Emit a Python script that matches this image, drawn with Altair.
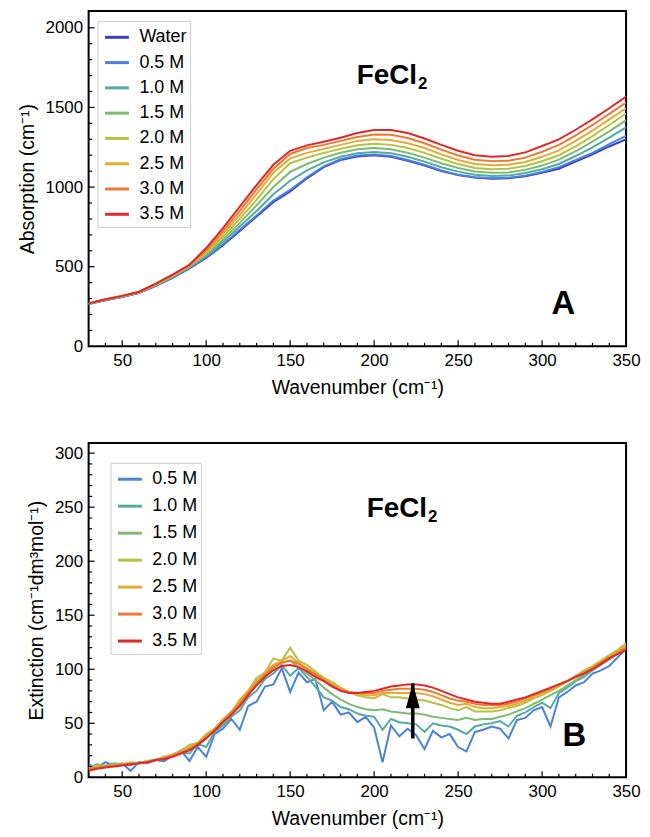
import altair as alt
import pandas as pd

FONT = "Liberation Sans"

# ---------------- Panel A : absorption ----------------
wn_a = list(range(30, 351, 10))
series_a = ["Water", "0.5 M", "1.0 M", "1.5 M", "2.0 M", "2.5 M", "3.0 M", "3.5 M"]
colors_a = ["#3d3dc6", "#4a82d9", "#52a9a6", "#7dbb6e", "#b5c243", "#e5ab34", "#ec7a33", "#e0282a"]

abs_water = [265, 290, 310, 335, 380, 430, 490, 555, 635, 725, 815, 905, 972, 1055, 1125, 1170, 1192,
             1200, 1190, 1165, 1135, 1100, 1075, 1060, 1052, 1055, 1068, 1090, 1115, 1160, 1205, 1255, 1300]
abs_05 = [266, 291, 311, 337, 382, 433, 493, 560, 640, 732, 822, 915, 982, 1062, 1130, 1175, 1198,
          1205, 1195, 1170, 1140, 1105, 1078, 1062, 1055, 1058, 1072, 1095, 1125, 1170, 1215, 1270, 1322]
abs_10 = [267, 292, 312, 338, 384, 436, 497, 567, 655, 752, 850, 955, 1040, 1105, 1155, 1190, 1212,
          1220, 1212, 1190, 1160, 1125, 1097, 1078, 1070, 1072, 1088, 1112, 1145, 1195, 1250, 1310, 1375]
abs_15 = [268, 293, 313, 339, 386, 439, 500, 575, 670, 775, 885, 1000, 1095, 1145, 1185, 1215, 1237,
          1245, 1237, 1215, 1185, 1150, 1120, 1098, 1090, 1092, 1108, 1135, 1172, 1225, 1285, 1350, 1420]
abs_20 = [268, 294, 314, 340, 388, 442, 503, 585, 688, 800, 920, 1050, 1150, 1185, 1215, 1240, 1262,
          1272, 1265, 1245, 1215, 1178, 1145, 1120, 1112, 1115, 1132, 1162, 1200, 1255, 1320, 1390, 1462]
abs_25 = [269, 295, 315, 341, 390, 445, 506, 595, 705, 825, 955, 1090, 1180, 1215, 1240, 1265, 1290,
          1300, 1295, 1275, 1245, 1205, 1170, 1145, 1137, 1140, 1158, 1190, 1230, 1290, 1355, 1425, 1495]
abs_30 = [269, 295, 316, 342, 392, 448, 508, 605, 722, 850, 985, 1115, 1208, 1245, 1265, 1290, 1315,
          1330, 1328, 1308, 1275, 1235, 1198, 1172, 1163, 1166, 1185, 1222, 1265, 1325, 1390, 1460, 1530]
abs_35 = [270, 296, 317, 343, 394, 450, 512, 617, 742, 877, 1012, 1140, 1228, 1262, 1285, 1310, 1340,
          1358, 1358, 1340, 1305, 1265, 1228, 1200, 1190, 1195, 1218, 1258, 1300, 1360, 1425, 1495, 1568]

# ---------------- Panel B : extinction ----------------
wn_b = list(range(30, 351, 5))
series_b = ["0.5 M", "1.0 M", "1.5 M", "2.0 M", "2.5 M", "3.0 M", "3.5 M"]
colors_b = colors_a[1:]

ext_05 = [12, 9, 14, 11, 13, 6, 14, 13, 16, 15,
          20, 25, 15, 28, 19, 40, 45, 54, 44, 66,
          70, 84, 86, 101, 79, 97, 88, 91, 62, 70,
          58, 60, 51, 56, 46, 14, 48, 38, 45, 39,
          26, 43, 37, 40, 28, 24, 42, 44, 47, 45,
          36, 53, 55, 62, 65, 47, 74, 79, 85, 88,
          96, 99, 103, 111, 119]
ext_10 = [9, 12, 10, 13, 12, 11, 14, 14, 16, 17,
          20, 23, 22, 31, 28, 42, 48, 56, 62, 74,
          80, 91, 96, 104, 94, 101, 93, 84, 74, 71,
          65, 63, 59, 57, 56, 44, 54, 51, 50, 49,
          42, 50, 48, 47, 44, 40, 47, 49, 50, 52,
          47, 57, 60, 65, 69, 64, 78, 83, 89, 93,
          99, 104, 109, 115, 120]
ext_15 = [9, 11, 11, 12, 12, 13, 13, 15, 16, 18,
          21, 24, 27, 32, 37, 44, 52, 59, 68, 78,
          87, 95, 101, 106, 108, 102, 96, 90, 83, 77,
          72, 68, 65, 63, 62, 63, 61, 60, 59, 59,
          58, 56, 55, 54, 53, 55, 53, 54, 54, 56,
          58, 61, 64, 68, 72, 76, 80, 85, 90, 95,
          100, 105, 110, 115, 120]
ext_20 = [9, 11, 10, 12, 12, 14, 13, 15, 16, 19,
          21, 25, 30, 32, 40, 45, 54, 60, 72, 80,
          92, 97, 110, 108, 120, 108, 104, 98, 92, 88,
          83, 79, 76, 74, 73, 77, 74, 74, 73, 72,
          71, 69, 67, 64, 62, 65, 61, 61, 61, 62,
          64, 66, 69, 73, 76, 80, 84, 89, 94, 99,
          103, 108, 113, 118, 124]
ext_25 = [8, 10, 10, 11, 12, 13, 13, 15, 16, 19,
          21, 24, 28, 32, 38, 45, 53, 61, 70, 80,
          89, 97, 104, 108, 112, 106, 101, 96, 91, 86,
          82, 79, 77, 76, 76, 78, 78, 78, 78, 78,
          77, 75, 72, 69, 67, 68, 65, 64, 64, 65,
          66, 68, 71, 75, 78, 81, 85, 89, 93, 98,
          102, 107, 112, 117, 122]
ext_30 = [7, 9, 10, 11, 12, 12, 13, 14, 16, 18,
          20, 23, 26, 31, 37, 44, 52, 60, 68, 78,
          87, 95, 102, 106, 108, 105, 100, 95, 90, 85,
          81, 79, 78, 78, 78, 80, 81, 82, 82, 82,
          81, 79, 76, 73, 71, 70, 68, 67, 67, 67,
          68, 70, 73, 76, 79, 82, 86, 89, 93, 97,
          101, 106, 111, 115, 120]
ext_35 = [6, 8, 9, 10, 11, 12, 13, 14, 16, 17,
          19, 22, 25, 30, 36, 43, 51, 58, 66, 76,
          85, 93, 99, 103, 104, 102, 98, 93, 89, 84,
          80, 78, 78, 79, 80, 82, 84, 85, 86, 86,
          85, 83, 80, 77, 74, 72, 70, 69, 68, 68,
          70, 72, 74, 77, 80, 83, 86, 89, 93, 96,
          100, 105, 110, 114, 118]

# arrow in panel B (wavenumber, from, to)
arrow_wn = [223]
arrow_from = [36]
arrow_to = [87]

# axis ticks / labels
x_labels = [50, 100, 150, 200, 250, 300, 350]
x_major = [50, 100, 150, 200, 250, 300]
x_minor = [v for v in range(40, 350, 10) if v % 50 != 0]
ya_labels = [0, 500, 1000, 1500, 2000]
ya_major = [500, 1000, 1500, 2000]
ya_minor = [v for v in range(100, 2100, 100) if v % 500 != 0]
yb_labels = [0, 50, 100, 150, 200, 250, 300]
yb_major = [50, 100, 150, 200, 250, 300]
yb_minor = [v for v in range(10, 310, 10) if v % 50 != 0]

X_TITLE = "Wavenumber (cm⁻¹)"


def long_df(xs, names, lists):
    rows = []
    for name, vals in zip(names, lists):
        for x, v in zip(xs, vals):
            rows.append({"wn": x, "val": v, "series": name})
    return pd.DataFrame(rows)


df_a = long_df(wn_a, series_a, [abs_water, abs_05, abs_10, abs_15, abs_20, abs_25, abs_30, abs_35])
df_b = long_df(wn_b, series_b, [ext_05, ext_10, ext_15, ext_20, ext_25, ext_30, ext_35])

W = 540


def text_layer(txt, x, y, size, weight="bold", align="center", baseline="alphabetic"):
    return alt.Chart(pd.DataFrame({"t": [txt]})).mark_text(
        font=FONT, fontSize=size, fontWeight=weight, align=align, baseline=baseline, color="black"
    ).encode(x=alt.value(x), y=alt.value(y), text="t:N")


def panel(df, names, colors, ydom, ylabels, ymaj, ymin, ytitle, legx, legy, rowpad, H,
          fecl_x, fecl_y, letter, letter_x, letter_y, extra=None):
    xs = alt.Scale(domain=[30, 350], nice=False, zero=False)
    ys = alt.Scale(domain=ydom, nice=False, zero=False)
    xax = alt.Axis(values=x_labels, title=X_TITLE, labelFlush=False, format="d")
    yax = alt.Axis(values=ylabels, title=ytitle, format="d")
    lines = alt.Chart(df).mark_line(strokeWidth=2, clip=True).encode(
        x=alt.X("wn:Q", scale=xs, axis=xax),
        y=alt.Y("val:Q", scale=ys, axis=yax),
        color=alt.Color("series:N", scale=alt.Scale(domain=names, range=colors),
                        legend=alt.Legend(orient="none", legendX=legx, legendY=legy, title=None,
                                          symbolType="stroke", symbolSize=576, symbolStrokeWidth=3,
                                          labelFont=FONT, labelFontSize=18, labelColor="black",
                                          labelOffset=9, padding=3, rowPadding=rowpad,
                                          symbolOffset=3, strokeColor="#cccccc", fillColor="white")),
    )
    ytm = alt.Chart(pd.DataFrame({"v": ymaj})).mark_rule(color="black", strokeWidth=1.2).encode(
        y=alt.Y("v:Q", scale=ys, axis=yax, title=ytitle), x=alt.value(0), x2=alt.value(6))
    ytn = alt.Chart(pd.DataFrame({"v": ymin})).mark_rule(color="black", strokeWidth=1.2).encode(
        y=alt.Y("v:Q", scale=ys, axis=yax, title=ytitle), x=alt.value(0), x2=alt.value(3.5))
    xtm = alt.Chart(pd.DataFrame({"v": x_major})).mark_rule(color="black", strokeWidth=1.2).encode(
        x=alt.X("v:Q", scale=xs, axis=xax, title=X_TITLE), y=alt.value(H), y2=alt.value(H - 6))
    xtn = alt.Chart(pd.DataFrame({"v": x_minor})).mark_rule(color="black", strokeWidth=1.2).encode(
        x=alt.X("v:Q", scale=xs, axis=xax, title=X_TITLE), y=alt.value(H), y2=alt.value(H - 3.5))
    layers = [lines, ytm, ytn, xtm, xtn,
              text_layer("FeCl", fecl_x, fecl_y, 28, align="right"),
              text_layer("2", fecl_x + 1, fecl_y + 5, 17, align="left"),
              text_layer(letter, letter_x, letter_y, 33, baseline="middle")]
    if extra:
        layers += extra(xs, ys, xax, yax, ytitle)
    return alt.layer(*layers).properties(width=W, height=H)


def arrow_layers(xs, ys, xax, yax, ytitle):
    adf = pd.DataFrame({"wn": arrow_wn, "y0": arrow_from, "y1": arrow_to})
    shaft = alt.Chart(adf).mark_rule(color="black", strokeWidth=3.5).encode(
        x=alt.X("wn:Q", scale=xs, axis=xax, title=X_TITLE),
        y=alt.Y("y0:Q", scale=ys, axis=yax, title=ytitle),
        y2=alt.Y2("y1:Q"),
    )
    head = alt.Chart(adf).mark_point(
        shape="M0,0L0.56,2L-0.56,2Z", size=625, filled=True, color="black", opacity=1, strokeWidth=0
    ).encode(x=alt.X("wn:Q", scale=xs, axis=xax, title=X_TITLE),
             y=alt.Y("y1:Q", scale=ys, axis=yax, title=ytitle))
    return [shaft, head]


chart_a = panel(df_a, series_a, colors_a, [0, 2106], ya_labels, ya_major, ya_minor,
                "Absorption (cm⁻¹)", 9, 10, 2.4, 337, 330, 73, "A", 477, 295)
chart_b = panel(df_b, series_b, colors_b, [0, 309.5], yb_labels, yb_major, yb_minor,
                "Extinction (cm⁻¹dm³mol⁻¹)", 22, 20, 4.1, 336, 340, 74, "B", 488, 295,
                extra=arrow_layers)

chart = alt.vconcat(chart_a, chart_b, spacing=44).resolve_scale(
    color="independent", x="independent", y="independent"
).resolve_legend(color="independent").properties(
    padding={"left": 8, "top": 0, "right": 0, "bottom": 0}
).configure_view(stroke="black", strokeWidth=2).configure_axis(
    grid=False, domain=False, ticks=False, labelFont=FONT, labelFontSize=17, labelColor="black",
    labelPadding=6, titleFont=FONT, titleFontSize=19.5, titleFontWeight="normal", titleColor="black"
).configure_axisX(titlePadding=10).configure_axisY(titlePadding=8)

chart.save("out.html", embed_options={"renderer": "svg", "actions": False})
